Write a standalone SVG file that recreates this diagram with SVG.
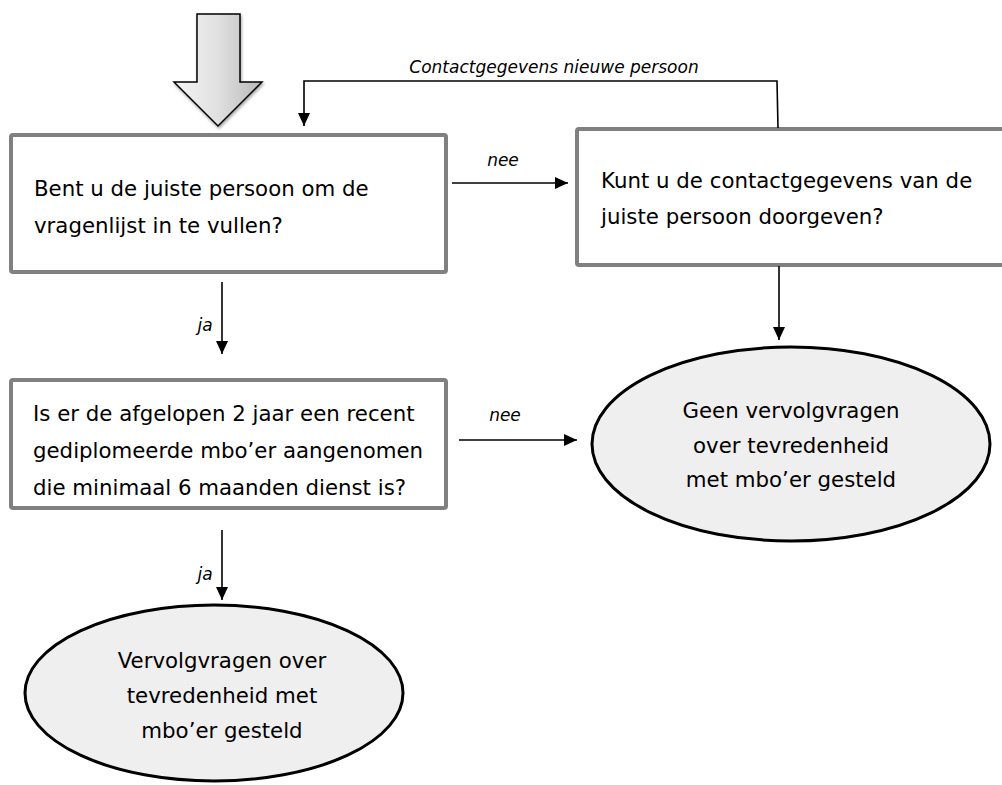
<svg xmlns="http://www.w3.org/2000/svg" width="1002" height="785" viewBox="0 0 1002 785">
<defs>
<linearGradient id="g" x1="0" y1="0" x2="1" y2="0">
<stop offset="0" stop-color="#f4f4f4"/>
<stop offset="0.5" stop-color="#e0e0e0"/>
<stop offset="1" stop-color="#b8b8b8"/>
</linearGradient>
<marker id="ah" markerWidth="13" markerHeight="12" refX="13" refY="6" orient="auto" markerUnits="userSpaceOnUse" viewBox="0 0 13 12">
<path d="M0,0 L13,6 L0,12 Z" fill="#000"/>
</marker>
<filter id="sh" x="-20%" y="-20%" width="140%" height="140%">
<feDropShadow dx="1" dy="2" stdDeviation="1.5" flood-color="#000" flood-opacity="0.35"/>
</filter>
</defs>
<style>
.box{fill:#fff;stroke:#808080;stroke-width:4}
.ell{fill:#efefef;stroke:#000;stroke-width:3}
.t{font-family:"DejaVu Sans",Verdana,sans-serif;font-size:21.3px;fill:#000}
.c{text-anchor:middle}
.lbl{font-family:"DejaVu Sans",Verdana,sans-serif;font-size:17px;font-style:italic;fill:#000}
.ln{stroke:#000;stroke-width:1.6;fill:none}
</style>
<g id="start-arrow">
<path d="M197,14 L240,14 L240,82 L262,82 L218,126 L174,82 L197,82 Z" fill="url(#g)" stroke="#000" stroke-width="1.5" filter="url(#sh)"/>
</g>
<g id="q1">
<rect class="box" x="11" y="135" width="435" height="137" rx="2"/>
<text class="t" x="34" y="196">Bent u de juiste persoon om de</text>
<text class="t" x="34" y="233">vragenlijst in te vullen?</text>
</g>
<g id="q2">
<rect class="box" x="577" y="129" width="440" height="136" rx="2"/>
<text class="t" x="601" y="188">Kunt u de contactgegevens van de</text>
<text class="t" x="601" y="224">juiste persoon doorgeven?</text>
</g>
<g id="q3">
<rect class="box" x="11" y="380" width="435" height="128" rx="2"/>
<text class="t" x="33" y="421">Is er de afgelopen 2 jaar een recent</text>
<text class="t" x="33" y="458">gediplomeerde mbo’er aangenomen</text>
<text class="t" x="33" y="495">die minimaal 6 maanden dienst is?</text>
</g>
<g id="end-no">
<ellipse class="ell" cx="791" cy="444" rx="199" ry="97"/>
<text class="t c" x="791" y="418">Geen vervolgvragen</text>
<text class="t c" x="791" y="453">over tevredenheid</text>
<text class="t c" x="791" y="487">met mbo’er gesteld</text>
</g>
<g id="end-yes">
<ellipse class="ell" cx="214" cy="693" rx="189" ry="88"/>
<text class="t c" x="222" y="668">Vervolgvragen over</text>
<text class="t c" x="222" y="703">tevredenheid met</text>
<text class="t c" x="222" y="738">mbo’er gesteld</text>
</g>
<g id="connectors">
<path class="ln" d="M778,128 L777,81 L304,81 L304,126" marker-end="url(#ah)"/>
<text class="lbl" x="554" y="73" text-anchor="middle">Contactgegevens nieuwe persoon</text>
<path class="ln" d="M452,183 L568,183" marker-end="url(#ah)"/>
<text class="lbl" x="503" y="166" text-anchor="middle">nee</text>
<path class="ln" d="M222,282 L222,354" marker-end="url(#ah)"/>
<text class="lbl" x="205" y="331" text-anchor="middle">ja</text>
<path class="ln" d="M459,440 L577,440" marker-end="url(#ah)"/>
<text class="lbl" x="505" y="421" text-anchor="middle">nee</text>
<path class="ln" d="M779,266 L779,340" marker-end="url(#ah)"/>
<path class="ln" d="M222,530 L222,600" marker-end="url(#ah)"/>
<text class="lbl" x="205" y="580" text-anchor="middle">ja</text>
</g>
</svg>
